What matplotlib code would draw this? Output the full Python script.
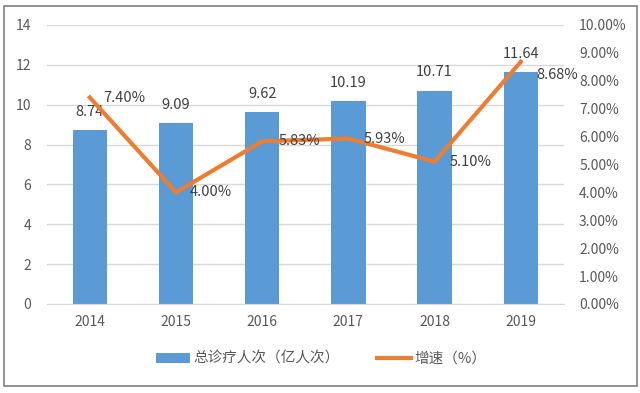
import matplotlib
matplotlib.use("Agg")
import matplotlib.pyplot as plt
from matplotlib.ticker import FuncFormatter, MultipleLocator
from matplotlib.patches import Rectangle

plt.rcParams['font.family'] = ['Noto Sans CJK SC', 'DejaVu Sans']

years = ["2014", "2015", "2016", "2017", "2018", "2019"]
visits = [8.74, 9.09, 9.62, 10.19, 10.71, 11.64]
growth = [7.40, 4.00, 5.83, 5.93, 5.10, 8.68]
bar_name = "总诊疗人次（亿人次）"
line_name = "增速（%）"

bar_color = "#5B9BD5"
line_color = "#ED7D31"
text_color = "#404040"
tick_color = "#595959"

fig = plt.figure(figsize=(6.4, 3.93), dpi=100)
fig.patches.append(Rectangle((0.007, 0.018), 0.988, 0.966, transform=fig.transFigure,
                             fill=False, edgecolor="#7f7f7f", linewidth=1.2))
ax = fig.add_axes([0.073, 0.2265, 0.808, 0.71])
ax2 = ax.twinx()

x = list(range(len(years)))
ax.bar(x, visits, width=0.4, color=bar_color, zorder=2, label=bar_name)
ax.set_ylim(0, 14)
ax.yaxis.set_major_locator(MultipleLocator(2))
ax.set_xlim(-0.5, len(years) - 0.5)
ax.set_xticks(x)
ax.set_xticklabels(years)
ax.grid(axis='y', color="#d9d9d9", linewidth=1, zorder=0)
ax.set_axisbelow(True)
for s in ax.spines.values():
    s.set_visible(False)
for s in ax2.spines.values():
    s.set_visible(False)
ax.spines['bottom'].set_visible(True)
ax.spines['bottom'].set_color("#d9d9d9")
ax.tick_params(axis='both', length=0, colors=tick_color, labelsize=10)
ax.tick_params(axis='y', pad=11)
ax.tick_params(axis='x', pad=8)

ax2.plot(x, growth, color=line_color, linewidth=3, zorder=3, label=line_name,
         solid_joinstyle='miter')
ax2.set_ylim(0, 10)
ax2.yaxis.set_major_locator(MultipleLocator(1))
ax2.yaxis.set_major_formatter(FuncFormatter(lambda v, p: f"{v:.2f}%"))
ax2.tick_params(axis='y', length=0, colors=tick_color, labelsize=10, pad=11)

for xi, v in zip(x, visits):
    ax.annotate(f"{v:.2f}", (xi, v), xytext=(0, 13), textcoords='offset points',
                ha='center', va='center', fontsize=10.5, color=text_color, zorder=5)

offsets = [(10, 0), (10, 0), (12, 0), (11, 0), (11, 0), (11, -9.5)]
for xi, g, off in zip(x, growth, offsets):
    ax2.annotate(f"{g:.2f}%", (xi, g), xytext=off, textcoords='offset points',
                 ha='left', va='center', fontsize=10.5, color=text_color, zorder=5)

h1, l1 = ax.get_legend_handles_labels()
h2, l2 = ax2.get_legend_handles_labels()
leg = fig.legend(h1 + h2, l1 + l2, loc='center', bbox_to_anchor=(0.502, 0.087),
                 ncol=2, frameon=False, fontsize=10.5, handlelength=2.3, handleheight=0.65,
                 columnspacing=2.6, handletextpad=0.25)
for t in leg.get_texts():
    t.set_color(tick_color)

fig.savefig("out.png", dpi=100)
